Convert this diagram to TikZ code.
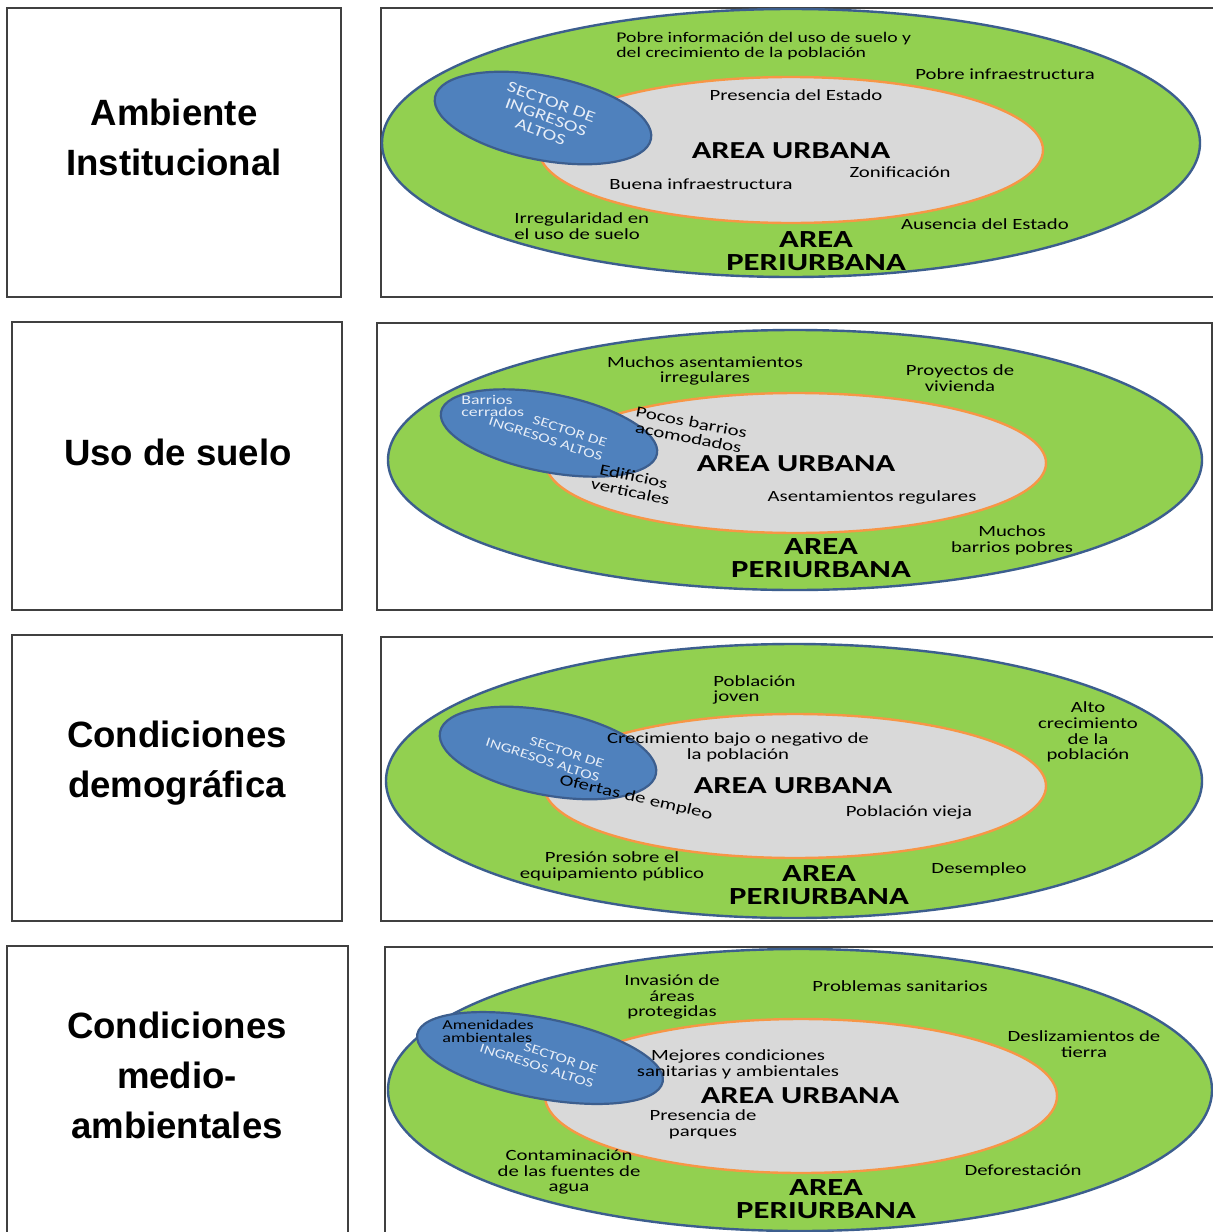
\documentclass[tikz,border=0pt]{standalone}
\usepackage{fontspec}
\setmainfont{Carlito}
\newfontfamily\lblfont[FakeStretch=1.33]{Carlito}
\newfontfamily\ttlfont{Liberation Sans}
\usetikzlibrary{shapes.geometric}

\definecolor{verde}{HTML}{92D050}
\definecolor{azulborde}{HTML}{3C5E8E}
\definecolor{azul}{HTML}{4F81BD}
\definecolor{gris}{HTML}{D9D9D9}
\definecolor{naranja}{HTML}{F79646}
\definecolor{claro}{HTML}{E6EDF7}

\tikzset{
  caja/.style={draw=black!75,line width=0.65pt},
  titulo/.style={align=center,inner sep=0pt,font=\ttlfont\bfseries\fontsize{18.3}{25}\selectfont},
  peri/.style={ellipse,fill=verde,draw=azulborde,line width=1.2pt,inner sep=0pt},
  urb/.style={ellipse,fill=gris,draw=naranja,line width=1.2pt,inner sep=0pt},
  sector/.style={ellipse,fill=azul,draw=azulborde,line width=1.1pt,inner sep=0pt,rotate=-11},
  lbl/.style={align=center,inner sep=0pt,font=\lblfont\fontsize{7.8}{7.9}\selectfont},
  lblizq/.style={lbl,align=left,anchor=west},
  sectxt/.style={lbl,text=claro,rotate=-18,align=right,font=\lblfont\fontsize{6.5}{7.4}\selectfont},
  urbtxt/.style={inner sep=0pt,font=\lblfont\bfseries\fontsize{12.2}{12}\selectfont},
  peritxt/.style={align=center,inner sep=0pt,font=\lblfont\bfseries\fontsize{12.3}{11.5}\selectfont}
}

\begin{document}
\begin{tikzpicture}[x=0.5pt,y=-0.5pt]
\clip (0,0) rectangle (1213,1232);
\fill[white] (0,0) rectangle (1213,1232);

% cajas de la izquierda
\draw[caja] (7,8) rectangle (341,297);
\draw[caja] (12,322) rectangle (342,610);
\draw[caja] (12,635) rectangle (342,921);
\draw[caja] (7,946) rectangle (348,1240);
\node[titulo] (t1) at (174,137) {Ambiente\\Institucional};
\node[titulo] (t2) at (178,452) {Uso de suelo};
\node[titulo] (t3) at (177,763) {Condiciones\\demográfica};
\node[titulo] (t4) at (177,1075) {Condiciones\\medio-\\ambientales};

% cajas de la derecha
\draw[caja] (381,8) rectangle (1220,297);
\draw[caja] (377,323) rectangle (1212,610);
\draw[caja] (381,637) rectangle (1220,921);
\draw[caja] (385,947) rectangle (1220,1240);

% ambiente institucional
\node[peri,minimum width=409pt,minimum height=134pt] (peri1) at (791,143) {};
\node[urb,minimum width=252pt,minimum height=73pt] (urb1) at (791,150) {};
\node[sector,minimum width=110pt,minimum height=42pt] (sec1) at (543,118) {};
\node[sectxt,align=center,font=\lblfont\fontsize{7.8}{8}\selectfont,rotate=-2] (sec1t) at (546,117) {SECTOR DE\\INGRESOS\\ALTOS};
\node[lblizq,font=\lblfont\fontsize{7.4}{7.9}\selectfont] (p1a) at (616,46) {Pobre información del uso de suelo y\\del crecimiento de la población};
\node[lbl] (p1b) at (1005,74) {Pobre infraestructura};
\node[lbl] (p1c) at (796,95) {Presencia del Estado};
\node[urbtxt] (urb1t) at (791,151) {AREA URBANA};
\node[lbl] (p1d) at (900,172) {Zonificación};
\node[lbl] (p1e) at (701,184) {Buena infraestructura};
\node[lblizq] (p1f) at (514,226) {Irregularidad en\\el uso de suelo};
\node[lbl] (p1g) at (985,224) {Ausencia del Estado};
\node[peritxt] (peri1t) at (816,251) {AREA\\PERIURBANA};

% uso de suelo
\node[peri,minimum width=407pt,minimum height=130pt] (peri2) at (795,460) {};
\node[urb,minimum width=250pt,minimum height=70pt] (urb2) at (796,463) {};
\node[sector,minimum width=110pt,minimum height=39pt] (sec2) at (549,433) {};
\node[lblizq,text=claro,font=\lblfont\fontsize{6.7}{6.2}\selectfont] (p2c) at (461,406) {Barrios\\cerrados};
\node[sectxt] (sec2t) at (548,432) {SECTOR DE\\INGRESOS ALTOS};
\node[lbl] (p2a) at (705,371) {Muchos asentamientos\\irregulares};
\node[lbl] (p2b) at (960,378) {Proyectos de\\vivienda};
\node[lbl,rotate=-11] (p2d) at (690,430) {Pocos barrios\\acomodados};
\node[urbtxt] (urb2t) at (796,464) {AREA URBANA};
\node[lbl,rotate=-12] (p2e) at (632,484) {Edificios\\verticales};
\node[lbl] (p2f) at (872,497) {Asentamientos regulares};
\node[lbl] (p2g) at (1012,540) {Muchos\\barrios pobres};
\node[peritxt] (peri2t) at (821,558) {AREA\\PERIURBANA};

% condiciones demograficas
\node[peri,minimum width=408pt,minimum height=137pt] (peri3) at (794,781) {};
\node[urb,minimum width=251pt,minimum height=72pt] (urb3) at (795,786) {};
\node[sector,minimum width=110pt,minimum height=42pt] (sec3) at (548,753) {};
\node[sectxt] (sec3t) at (545,753) {SECTOR DE\\INGRESOS ALTOS};
\node[lblizq] (p3a) at (713,690) {Población\\joven};
\node[lbl] (p3b) at (1088,732) {Alto\\crecimiento\\de la\\población};
\node[lbl] (p3c) at (738,747) {Crecimiento bajo o negativo de\\la población};
\node[lbl,rotate=-13] (p3d) at (636,798) {Ofertas de empleo};
\node[urbtxt] (urb3t) at (793,786) {AREA URBANA};
\node[lbl] (p3e) at (909,812) {Población vieja};
\node[lbl] (p3f) at (612,866) {Presión sobre el\\equipamiento público};
\node[lbl] (p3g) at (979,869) {Desempleo};
\node[peritxt] (peri3t) at (819,885) {AREA\\PERIURBANA};

% condiciones medio-ambientales
\node[peri,minimum width=412pt,minimum height=141pt] (peri4) at (800,1090) {};
\node[urb,minimum width=256pt,minimum height=77pt] (urb4) at (801,1096) {};
\node[sector,minimum width=125pt,minimum height=40pt] (sec4) at (540,1058) {};
\node[lblizq,font=\lblfont\fontsize{6.8}{6.6}\selectfont] (p4c) at (442,1031) {Amenidades\\ambientales};
\node[sectxt] (sec4t) at (539,1059) {SECTOR DE\\INGRESOS ALTOS};
\node[lbl] (p4a) at (672,997) {Invasión de\\áreas\\protegidas};
\node[lbl] (p4b) at (900,986) {Problemas sanitarios};
\node[lbl] (p4d) at (1084,1044) {Deslizamientos de\\tierra};
\node[lbl] (p4e) at (738,1064) {Mejores condiciones\\sanitarias y ambientales};
\node[urbtxt] (urb4t) at (800,1096) {AREA URBANA};
\node[lbl] (p4f) at (703,1124) {Presencia de\\parques};
\node[lbl] (p4g) at (569,1172) {Contaminación\\de las fuentes de\\agua};
\node[lbl] (p4h) at (1023,1170) {Deforestación};
\node[peritxt] (peri4t) at (826,1199) {AREA\\PERIURBANA};
\end{tikzpicture}
\end{document}
